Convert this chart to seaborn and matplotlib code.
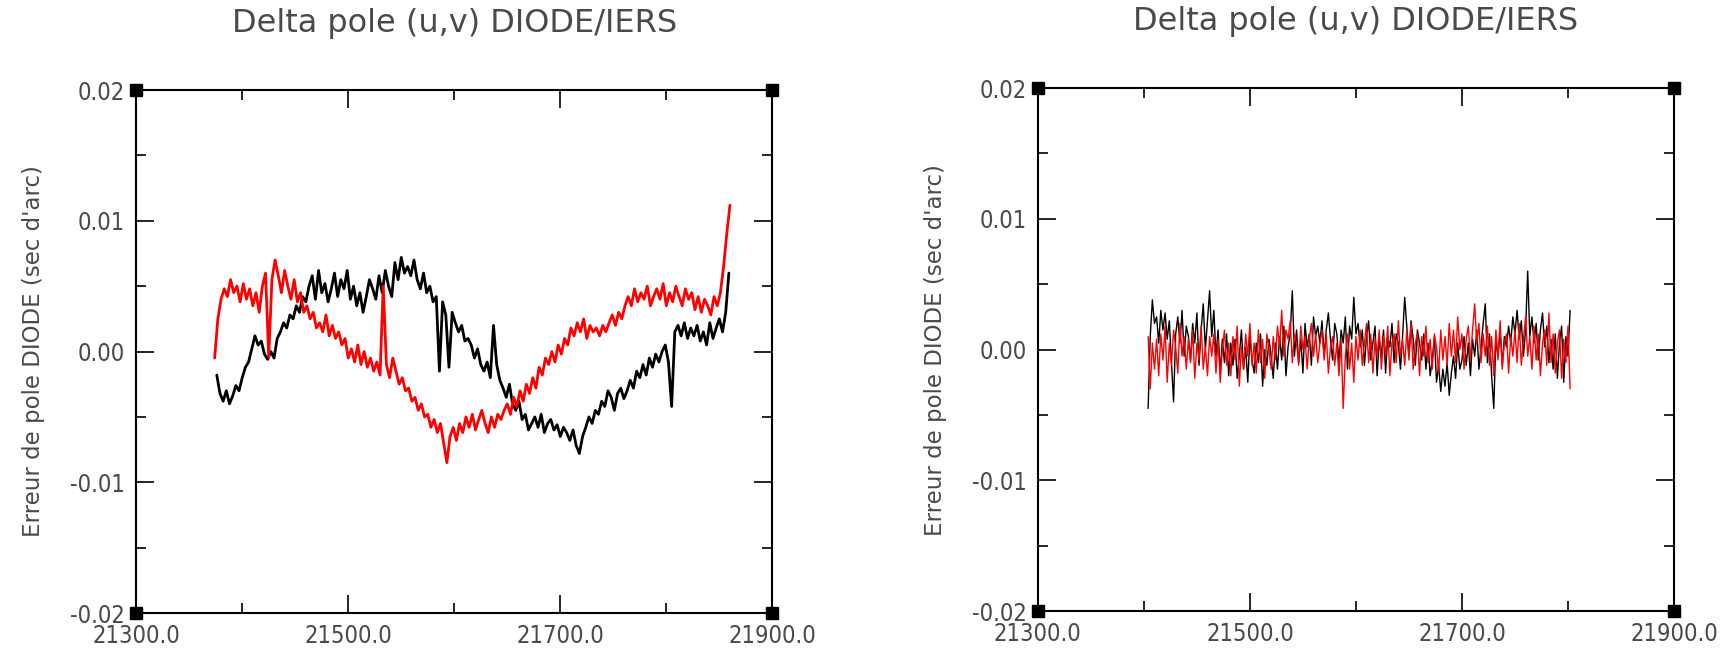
import numpy as np
import pandas as pd
import seaborn as sns
import matplotlib.pyplot as plt
from matplotlib.ticker import FixedLocator

# ------------------------ donnees (unite : 1e-4 sec d'arc) ------------------------
# panneau gauche : pas de 3 jours
left_u_start = 21376
left_u = [-18, -32, -38, -30, -40, -34, -26, -30, -20, -12,
          -8, 2, 12, 5, 8, -2, -6, 0, -5, 10,
          15, 22, 18, 28, 25, 35, 30, 42, 38, 50,
          58, 40, 62, 45, 52, 38, 48, 60, 42, 55,
          48, 62, 40, 50, 35, 45, 30, 42, 55, 48,
          40, 58, 45, 62, 50, 42, 68, 55, 72, 60,
          65, 58, 70, 55, 48, 60, 45, 50, 38, 42,
          -15, 38, 28, -12, 30, 22, 15, 20, 8, 10,
          5, -5, 2, -10, -15, -8, -20, 20, -10, -22,
          -28, -35, -25, -40, -45, -38, -52, -48, -60, -55,
          -50, -58, -48, -62, -55, -52, -60, -56, -65, -58,
          -62, -68, -60, -72, -78, -65, -58, -50, -55, -45,
          -48, -38, -42, -30, -35, -45, -32, -28, -36, -30,
          -22, -28, -15, -20, -10, -18, -5, -12, -2, -8,
          0, 5, -8, -42, 15, 20, 12, 22, 10, 18,
          12, 20, 8, 15, 5, 22, 10, 18, 25, 15,
          30, 60]

left_v_start = 21374
left_v = [-5, 25, 40, 48, 42, 55, 45, 50, 38, 52,
          40, 48, 35, 45, 30, 50, 60, -4, 55, 70,
          58, 45, 62, 50, 40, 55, 38, 45, 30, 35,
          25, 30, 18, 22, 15, 28, 12, 20, 10, 15,
          5, 10, -5, 2, -8, 5, -10, 0, -12, -5,
          -15, -8, -18, 50, -10, -20, -5, -15, -25, -20,
          -30, -28, -38, -35, -45, -40, -50, -48, -58, -52,
          -62, -55, -70, -85, -65, -58, -68, -55, -62, -50,
          -58, -48, -60, -52, -45, -55, -62, -50, -58, -48,
          -52, -45, -40, -48, -35, -42, -30, -38, -25, -32,
          -20, -28, -12, -18, -5, -10, 0, -8, 5, -2,
          10, 5, 18, 12, 22, 15, 25, 10, 20, 15,
          18, 12, 20, 15, 22, 28, 20, 30, 25, 35,
          42, 35, 48, 38, 45, 40, 50, 35, 42, 48,
          40, 52, 35, 45, 38, 50, 42, 35, 48, 40,
          45, 32, 42, 30, 40, 35, 28, 42, 35, 45,
          65, 90, 112]

# panneau droit : pas de 2 jours
right_start = 21404
right_u = [-45, 10, 38, 20, 25, 5, 30, 15, 28, 8,
           22, -10, -40, 12, 25, 5, 30, -5, 18, 10,
           -8, 20, 5, 28, -12, 15, 35, 0, 22, 45,
           10, 30, -5, 15, -18, 8, -10, 12, -20, 5,
           -12, 8, -22, -5, 15, -15, 2, -25, 10, -8,
           -18, 5, -10, 12, -28, 0, -12, 8, -5, -22,
           5, -15, 10, -8, 18, -20, 2, 12, 45, -5,
           15, -10, 8, -18, 20, 2, 12, -12, 25, 10,
           18, 5, 22, -5, 15, 28, 8, -8, 20, 12,
           -10, 15, 5, 25, -15, 18, 8, 40, 12, 20,
           2, 15, -12, 10, 22, -8, 5, 18, -20, 8,
           -5, 15, -18, 10, 2, 20, -10, 12, 5, -15,
           10, 40, 18, -5, 22, 8, -12, 15, 5, -8,
           12, -15, 5, -20, -8, 10, -25, -12, -32, -15,
           -28, -10, -35, -18, -5, -22, 5, -15, -8, 10,
           -12, 5, -20, 8, -5, 15, -15, 2, 20, 35,
           -10, 12, -20, -45, 8, -5, 15, -12, 10, 2,
           18, 5, 25, 12, 30, 8, 22, -5, 15, 60,
           10, 25, 5, 20, -8, 15, 28, 2, 18, -10,
           8, -15, 12, -22, 5, 18, -25, 10, -5, 30]

right_v = [10, -30, 5, -15, 8, -20, 12, -8, 18, -25,
           5, -12, 15, 2, -18, 20, -5, 10, -15, 8,
           -10, 15, -22, 5, -8, 18, -15, 2, -20, 10,
           -5, 12, -18, 8, -25, 0, 15, -12, 5, -20,
           10, -8, 18, -28, 2, -15, 12, -5, 20, -12,
           5, -18, 15, -10, 8, -22, 12, 0, -15, 10,
           -8, 18, 2, 30, -5, 15, 8, 22, -10, 12,
           5, -12, 18, 0, 10, -15, 8, 20, -5, 12,
           -10, 5, 15, -8, 12, -18, 2, 10, -12, 5,
           -20, 8, -45, -5, 12, -15, 5, -25, 10, -8,
           15, -12, 5, 20, -10, 12, -18, 8, -5, 15,
           -15, 10, -5, 18, -20, 5, 12, -10, 22, -5,
           8, -12, 15, -8, 20, -15, 5, 12, -20, 10,
           -5, 18, -10, 8, -15, 12, 2, -18, 15, -8,
           10, -12, 20, -5, 15, -10, 25, 0, 12, -15,
           8, 18, -8, 15, 35, 5, 20, -10, 12, -5,
           18, -12, 10, -20, 15, -8, 22, -15, 5, 12,
           -18, 10, -5, 15, -10, 20, -12, 8, 25, -5,
           10, -15, 18, -8, 12, -20, 5, 15, -12, 28,
           -10, 12, -18, 5, 15, -22, 8, -10, 18, -30]

x_major = [21300, 21500, 21700, 21900]
x_minor = [21400, 21600, 21800]
x_labels = ["21300.0", "21500.0", "21700.0", "21900.0"]
y_major = [-0.02, -0.01, 0.0, 0.01, 0.02]
y_minor = [-0.015, -0.005, 0.005, 0.015]
y_labels = ["-0.02", "-0.01", "0.00", "0.01", "0.02"]

TITLE = "Delta pole (u,v) DIODE/IERS"
YLABEL = "Erreur de pole DIODE (sec d'arc)"
GREY = "#4a4a4a"


def make_df(start, step, vals, name):
    return pd.DataFrame({"mjd": start + step * np.arange(len(vals)),
                         "err": np.array(vals) * 1e-4,
                         "serie": name})


df_left = pd.concat([make_df(left_u_start, 3, left_u, "u"),
                     make_df(left_v_start, 3, left_v, "v")], ignore_index=True)
df_right = pd.concat([make_df(right_start, 2, right_u, "u"),
                      make_df(right_start, 2, right_v, "v")], ignore_index=True)

sns.set_style("white")
plt.rcParams["font.family"] = ["DejaVu Sans"]

fig = plt.figure(figsize=(17.24, 6.48), dpi=100)
ax1 = fig.add_axes([0.079, 0.054, 0.369, 0.807])
ax2 = fig.add_axes([0.602, 0.057, 0.369, 0.807])

for ax, df, lw in [(ax1, df_left, 2.0), (ax2, df_right, 1.0)]:
    sns.lineplot(data=df, x="mjd", y="err", hue="serie",
                 palette={"u": "black", "v": "red"}, estimator=None,
                 sort=False, lw=lw, legend=False, ax=ax)
    ax.set_xlim(21300, 21900)
    ax.set_ylim(-0.02, 0.02)
    ax.xaxis.set_major_locator(FixedLocator(x_major))
    ax.xaxis.set_minor_locator(FixedLocator(x_minor))
    ax.yaxis.set_major_locator(FixedLocator(y_major))
    ax.yaxis.set_minor_locator(FixedLocator(y_minor))
    ax.set_xticklabels(x_labels)
    ax.set_yticklabels(y_labels)
    ax.tick_params(which="major", direction="in", left=True, bottom=True,
                   top=True, right=True, length=13, width=1.2,
                   colors="black", labelcolor=GREY, labelsize=17, pad=8)
    ax.tick_params(which="minor", direction="in", left=True, bottom=True,
                   top=True, right=True, length=7, width=1.2, colors="black")
    for lab in ax.get_xticklabels() + ax.get_yticklabels():
        lab.set_fontstretch("condensed")
    for sp in ax.spines.values():
        sp.set_color("black")
        sp.set_linewidth(1.5)
    ax.set_xlabel("")
    ax.set_ylabel(YLABEL, fontsize=16.5, color=GREY, labelpad=18)
    ax.set_title(TITLE, fontsize=23, color=GREY, pad=42)
    # carres noirs aux coins du cadre
    ax.plot([0, 1, 0, 1], [0, 0, 1, 1], "s", ms=8, color="black",
            transform=ax.transAxes, clip_on=False)

fig.savefig("out.png", dpi=100)
